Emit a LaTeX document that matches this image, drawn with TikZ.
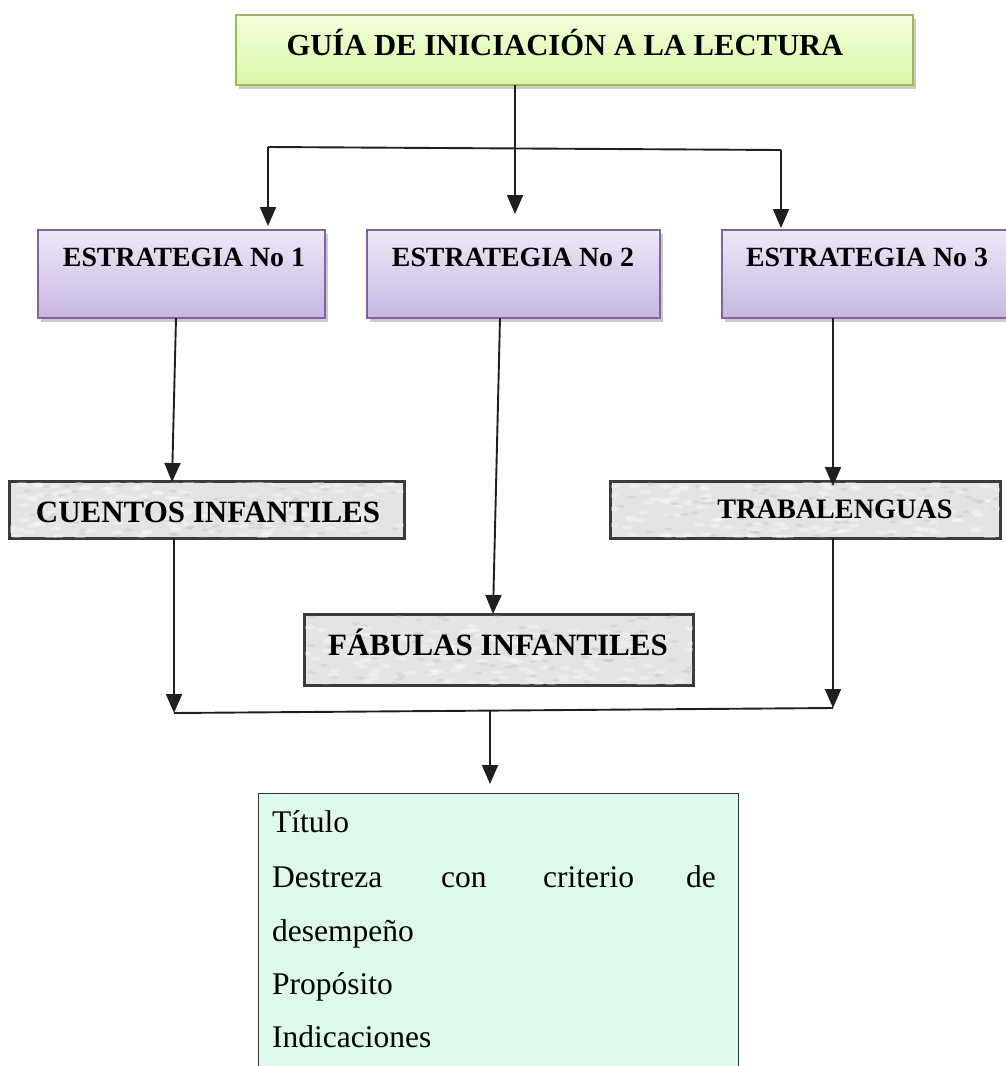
\documentclass[tikz,border=0pt]{standalone}
\usepackage{fontspec}
\setmainfont{Liberation Serif}
\usetikzlibrary{arrows.meta,shadows,calc}
\definecolor{titleborder}{HTML}{9BBB59}
\definecolor{titletop}{HTML}{F2FFD9}
\definecolor{titlebot}{HTML}{D8F7A6}
\definecolor{stratborder}{HTML}{8064A2}
\definecolor{strattop}{HTML}{EEE8F7}
\definecolor{stratbot}{HTML}{C8B6E2}
\definecolor{greyfill}{HTML}{E4E4E4}
\definecolor{greyborder}{HTML}{3A3A3A}
\definecolor{infofill}{HTML}{DDF9EA}
\tikzset{
  x=1pt, y=-1pt,
  conn/.style={line width=1.9pt, draw=black!88},
  arr/.style={conn, -{Triangle[width=16pt,length=19pt]}},
  titlebox/.style={draw=titleborder, line width=1.2pt, top color=titletop, bottom color=titlebot,
    minimum width=677pt, minimum height=70pt, inner sep=0pt,
    drop shadow={shadow xshift=3pt, shadow yshift=-4pt, opacity=0.35, fill=black!60}},
  stratbox/.style={draw=stratborder, line width=1.2pt, top color=strattop, bottom color=stratbot,
    minimum height=88pt, inner sep=0pt,
    drop shadow={shadow xshift=3pt, shadow yshift=-4pt, opacity=0.35, fill=black!60}},
  greybox/.style={draw=greyborder, line width=1.6pt, fill=greyfill, inner sep=0pt},
  infobox/.style={draw=black!80, line width=1.4pt, fill=infofill, inner sep=0pt},
  titlefont/.style={font=\fontsize{30.6}{34}\selectfont\bfseries},
  midbold/.style={font=\fontsize{31}{34}\selectfont\bfseries},
  stratfont/.style={font=\fontsize{27.8}{30}\selectfont\bfseries},
  trabafont/.style={font=\fontsize{28.2}{30}\selectfont\bfseries},
  bodytxt/.style={font=\fontsize{31.5}{34}\selectfont, anchor=base west, inner sep=0pt},
  speck/.style={fill=white, opacity=0.35},
  darkspeck/.style={fill=black!30, opacity=0.25},
}
\newcommand{\texturebox}[1]{%
  \begin{scope}
    \clip (#1.south west) rectangle (#1.north east);
    \foreach \k in {1,...,140} {
      \pgfmathsetmacro{\rx}{rnd}
      \pgfmathsetmacro{\ry}{rnd}
      \path[speck] ($(#1.south west)!\rx!(#1.south east) + (0,0)$) ++(0,{-\ry*60}) ellipse (6pt and 2pt);
    }
    \foreach \k in {1,...,90} {
      \pgfmathsetmacro{\rx}{rnd}
      \pgfmathsetmacro{\ry}{rnd}
      \path[darkspeck] ($(#1.south west)!\rx!(#1.south east)$) ++(0,{-\ry*70}) ellipse (4pt and 1.5pt);
    }
  \end{scope}}
\begin{document}
\begin{tikzpicture}
\pgfmathsetseed{7}
\useasboundingbox (0,0) rectangle (1006,1066);
% title
\node[titlebox] (title) at (574.5,50) {};
\node[titlefont, anchor=base] (titletxt) at (565,55) {GUÍA DE INICIACIÓN A LA LECTURA};
% strategy boxes
\node[stratbox, minimum width=287pt] (s1) at (181.5,274) {};
\node[stratbox, minimum width=293pt] (s2) at (513.5,274) {};
\node[stratbox, minimum width=290pt] (s3) at (867,274) {};
\node[stratfont, anchor=base] (s1t) at (184,266) {ESTRATEGIA No 1};
\node[stratfont, anchor=base] (s2t) at (513,266) {ESTRATEGIA No 2};
\node[stratfont, anchor=base] (s3t) at (867,266) {ESTRATEGIA No 3};
% grey boxes
\node[greybox, minimum width=394pt, minimum height=56pt] (cuentos) at (207,510) {};
\texturebox{cuentos}
\node[midbold, anchor=base] (cuentost) at (208,522) {CUENTOS INFANTILES};
\node[greybox, minimum width=389pt, minimum height=56pt] (traba) at (805.5,510) {};
\texturebox{traba}
\node[trabafont, anchor=base] (trabat) at (835,518) {TRABALENGUAS};
\node[greybox, minimum width=388pt, minimum height=70pt] (fabulas) at (499,650) {};
\texturebox{fabulas}
\node[midbold, anchor=base] (fabulast) at (498,655) {FÁBULAS INFANTILES};
\draw[greyborder, line width=1.6pt] (cuentos.south west) rectangle (cuentos.north east);
\draw[greyborder, line width=1.6pt] (traba.south west) rectangle (traba.north east);
\draw[greyborder, line width=1.6pt] (fabulas.south west) rectangle (fabulas.north east);
% info box
\node[infobox, minimum width=480pt, minimum height=280pt, anchor=north west] (info) at (258,793) {};
\node[bodytxt] (l1) at (272,832) {Título};
\node[bodytxt] (l2) at (272,887) {Destreza};
\node[bodytxt] (l2b) at (441,887) {con};
\node[bodytxt] (l2c) at (543,887) {criterio};
\node[bodytxt] (l2d) at (686,887) {de};
\node[bodytxt] (l3) at (272,941) {desempeño};
\node[bodytxt] (l4) at (272,994) {Propósito};
\node[bodytxt] (l5) at (272,1047) {Indicaciones};
% junctions
\coordinate (tb) at (515,85);
\coordinate (hl) at (268,147);
\coordinate (hm) at (515,148.5);
\coordinate (hr) at (781,150);
\coordinate (s1top) at (268,226);
\coordinate (s2top) at (515,214);
\coordinate (s3top) at (781,228);
\coordinate (s1b) at (176,318);
\coordinate (s2b) at (500,318);
\coordinate (s3b) at (833,318);
\coordinate (cu_in) at (172,482);
\coordinate (fa_in) at (493,614);
\coordinate (tr_in) at (833,486);
\coordinate (cu_out) at (174,538);
\coordinate (tr_out) at (833,538);
\coordinate (bl) at (174,713);
\coordinate (br) at (833,708);
\coordinate (bm) at (490,710.5);
\coordinate (info_in) at (490,784);
% connectors
\draw[conn] (hl) -- (hr);
\draw[arr] (tb) -- (s2top);
\draw[arr] (hl) -- (s1top);
\draw[arr] (hr) -- (s3top);
\draw[arr] (s1b) -- (cu_in);
\draw[arr] (s2b) -- (fa_in);
\draw[arr] (s3b) -- (tr_in);
\draw[arr] (cu_out) -- (bl);
\draw[arr] (tr_out) -- (br);
\draw[conn] (bl) -- (br);
\draw[arr] (bm) -- (info_in);
\end{tikzpicture}
\end{document}
